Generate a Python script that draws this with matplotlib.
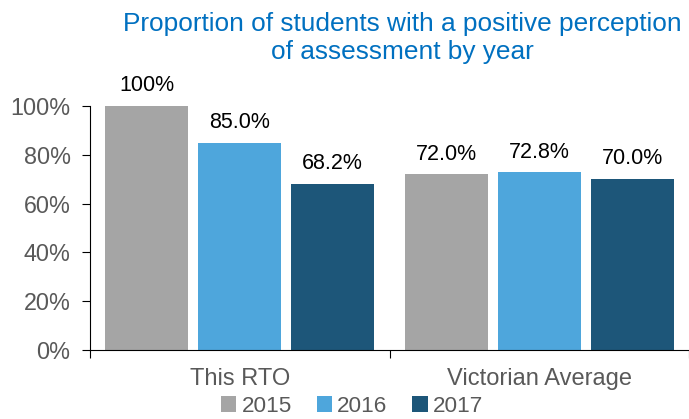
import matplotlib
matplotlib.use('Agg')
import matplotlib.pyplot as plt
import numpy as np
from matplotlib.ticker import PercentFormatter

categories = ['This RTO', 'Victorian Average']
years = ['2015', '2016', '2017']
values = {
	'2015': [100.0, 72.0],
	'2016': [85.0, 72.8],
	'2017': [68.2, 70.0],
}
labels = {
	'2015': ['100%', '72.0%'],
	'2016': ['85.0%', '72.8%'],
	'2017': ['68.2%', '70.0%'],
}
colors = ['#A5A5A5', '#4EA6DC', '#1D5679']

plt.rcParams['font.family'] = ['Liberation Sans', 'DejaVu Sans']

fig = plt.figure(figsize=(6.89, 4.19), dpi=100)
ax = fig.add_axes([90 / 689, 1 - 350 / 419, 599 / 689, 244 / 419])

x = np.arange(len(categories))
width = 0.277
offsets = [-0.31, 0.0, 0.31]

for i, yr in enumerate(years):
	bars = ax.bar(x + offsets[i], values[yr], width, color=colors[i], label=yr)
	for b, lab in zip(bars, labels[yr]):
		ax.annotate(lab, (b.get_x() + b.get_width() / 2, b.get_height()),
			xytext=(0, 7), textcoords='offset points', ha='center', va='bottom',
			fontsize=15.5, color='black')

ax.set_xlim(-0.5, 1.5)
ax.set_ylim(0, 100)
ax.yaxis.set_major_formatter(PercentFormatter(decimals=0))
ax.set_yticks(np.arange(0, 101, 20))

ax.set_xticks([-0.5, 0.5, 1.5])
ax.set_xticklabels([])
ax.set_xticks(x, minor=True)
ax.set_xticklabels(categories, minor=True)
ax.tick_params(axis='x', which='minor', length=0, pad=13, labelsize=17, labelcolor='#595959')
ax.tick_params(axis='x', which='major', direction='out', length=6, color='black')
ax.tick_params(axis='y', direction='out', length=6, labelsize=16.8, labelcolor='#595959', pad=8)

ax.spines['right'].set_visible(False)
ax.spines['top'].set_visible(False)

fig.text(402 / 689, 1 - 38 / 419, 'Proportion of students with a positive perception\nof assessment by year',
	ha='center', va='center', fontsize=18.9, color='#0070C0', linespacing=1.17)

ax.legend(loc='center', bbox_to_anchor=((352 - 90) / 599, (350 - 406) / 244), ncol=3, frameon=False,
	fontsize=16.2, handlelength=0.7, handleheight=0.7, handletextpad=0.22, columnspacing=1.1,
	labelcolor='#595959', borderpad=0)

fig.savefig('out.png', dpi=100)
